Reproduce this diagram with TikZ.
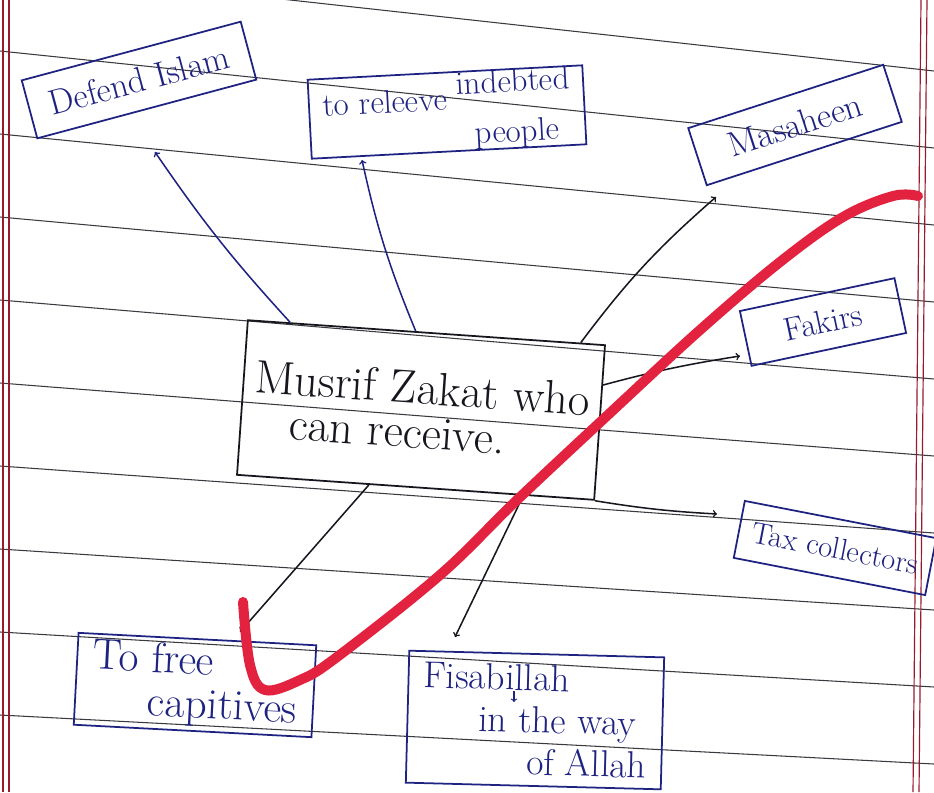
\documentclass[tikz,border=0pt]{standalone}
\usetikzlibrary{calc}
\usetikzlibrary{arrows}
\definecolor{inkblue}{RGB}{30,34,128}
\definecolor{inkblack}{RGB}{22,22,30}
\definecolor{margin}{RGB}{150,28,45}
\definecolor{tick}{RGB}{226,34,62}
\begin{document}
\begin{tikzpicture}[x=.3mm, y=-.3mm,
  rule/.style={inkblack!85, line width=.9pt},
  box/.style={draw, line width=1.5pt, inner sep=0, align=left},
  link/.style={line width=1.3pt, ->, >=to}]
\useasboundingbox (0,0) rectangle (934,792);
\clip (0,0) rectangle (934,792);
\fill[white] (0,0) rectangle (934,792);
% ruled paper
\foreach \i in {0,...,9} {
 \draw[rule] (0,{-32+83*\i}) -- (934,{71+77*\i});
}
\draw[margin, line width=1pt] (3,0) -- (3,792) (9,0) -- (9,792);
\draw[margin, line width=1pt] (921,0) -- (913,792) (927,0) -- (919,792);
% boxes
\node[box, inkblack, rotate=-4, minimum width=107.4mm, minimum height=46.5mm, font=\fontsize{40}{38}\selectfont] (centre) at (421,410)
 {Musrif Zakat who\\ \hspace{.8em}can receive.};
\node[box, inkblue, rotate=15, minimum width=68mm, minimum height=18mm, font=\fontsize{30}{32}\selectfont] (defend) at (139,80) {Defend Islam};
\node[box, inkblue, rotate=3, minimum width=82.5mm, minimum height=23.4mm, font=\fontsize{28}{30}\selectfont] (relief) at (447,112)
 {to releeve \raisebox{.45em}{indebted}\\ \hspace{4.6em}people};
\node[box, inkblue, rotate=18, minimum width=61.5mm, minimum height=18mm, font=\fontsize{30}{32}\selectfont] (masa) at (795,125) {Masaheen};
\node[box, inkblue, rotate=12, minimum width=47.4mm, minimum height=16.8mm, font=\fontsize{28}{30}\selectfont] (fakir) at (823,322) {Fakirs};
\node[box, inkblue, rotate=-11, minimum width=58.5mm, minimum height=17.4mm, font=\fontsize{26}{28}\selectfont] (tax) at (835,548) {Tax collectors};
\node[box, inkblue, rotate=-3, minimum width=71.4mm, minimum height=27.6mm, font=\fontsize{37}{37}\selectfont] (free) at (195,685)
 {To free\\ \hspace{1.3em}capitives};
\node[box, inkblue, rotate=-1.5, minimum width=76.5mm, minimum height=39.6mm, font=\fontsize{32}{36}\selectfont] (fisa) at (535,720)
 {Fisabillah\\ \hspace{1.5em}in the way\\ \hspace{2.8em}of Allah};
\draw[inkblue, line width=1pt, ->, >=to] ($(fisa.center)+(-21,-29)$) -- ++(0,11);
% arrow tips
\coordinate (tipdefend) at (155,152);
\coordinate (tiprelief) at (362,160);
\coordinate (tipmasa) at (716,197);
\coordinate (tipfakir) at (740,356);
\coordinate (tiptax) at (717,514);
\coordinate (tipfree) at (240,632);
\coordinate (tipfisa) at (455,637);
% connectors
\draw[link, inkblue] ($(centre.north west)!.12!(centre.north east)$) to[bend left=4] (tipdefend);
\draw[link, inkblue] ($(centre.north west)!.47!(centre.north east)$) to[bend left=5] (tiprelief);
\draw[link, inkblack] ($(centre.north west)!.93!(centre.north east)$) to[bend left=6] (tipmasa);
\draw[link, inkblack] ($(centre.north east)!.26!(centre.south east)$) to[bend left=3] (tipfakir);
\draw[link, inkblack] (centre.south east) to[bend right=3] (tiptax);
\draw[link, inkblack] ($(centre.south west)!.37!(centre.south east)$) -- (tipfree);
\draw[link, inkblack] ($(centre.south west)!.80!(centre.south east)$) -- (tipfisa);
% red mark
\draw[tick, line width=3mm, line cap=round, line join=round] plot[smooth, tension=.6] coordinates
 {(243,602) (250,665) (265,690) (300,680) (337,657) (440,575) (517,500) (610,413) (700,330) (780,262) (843,217) (893,196) (918,196)};
\end{tikzpicture}
\end{document}
